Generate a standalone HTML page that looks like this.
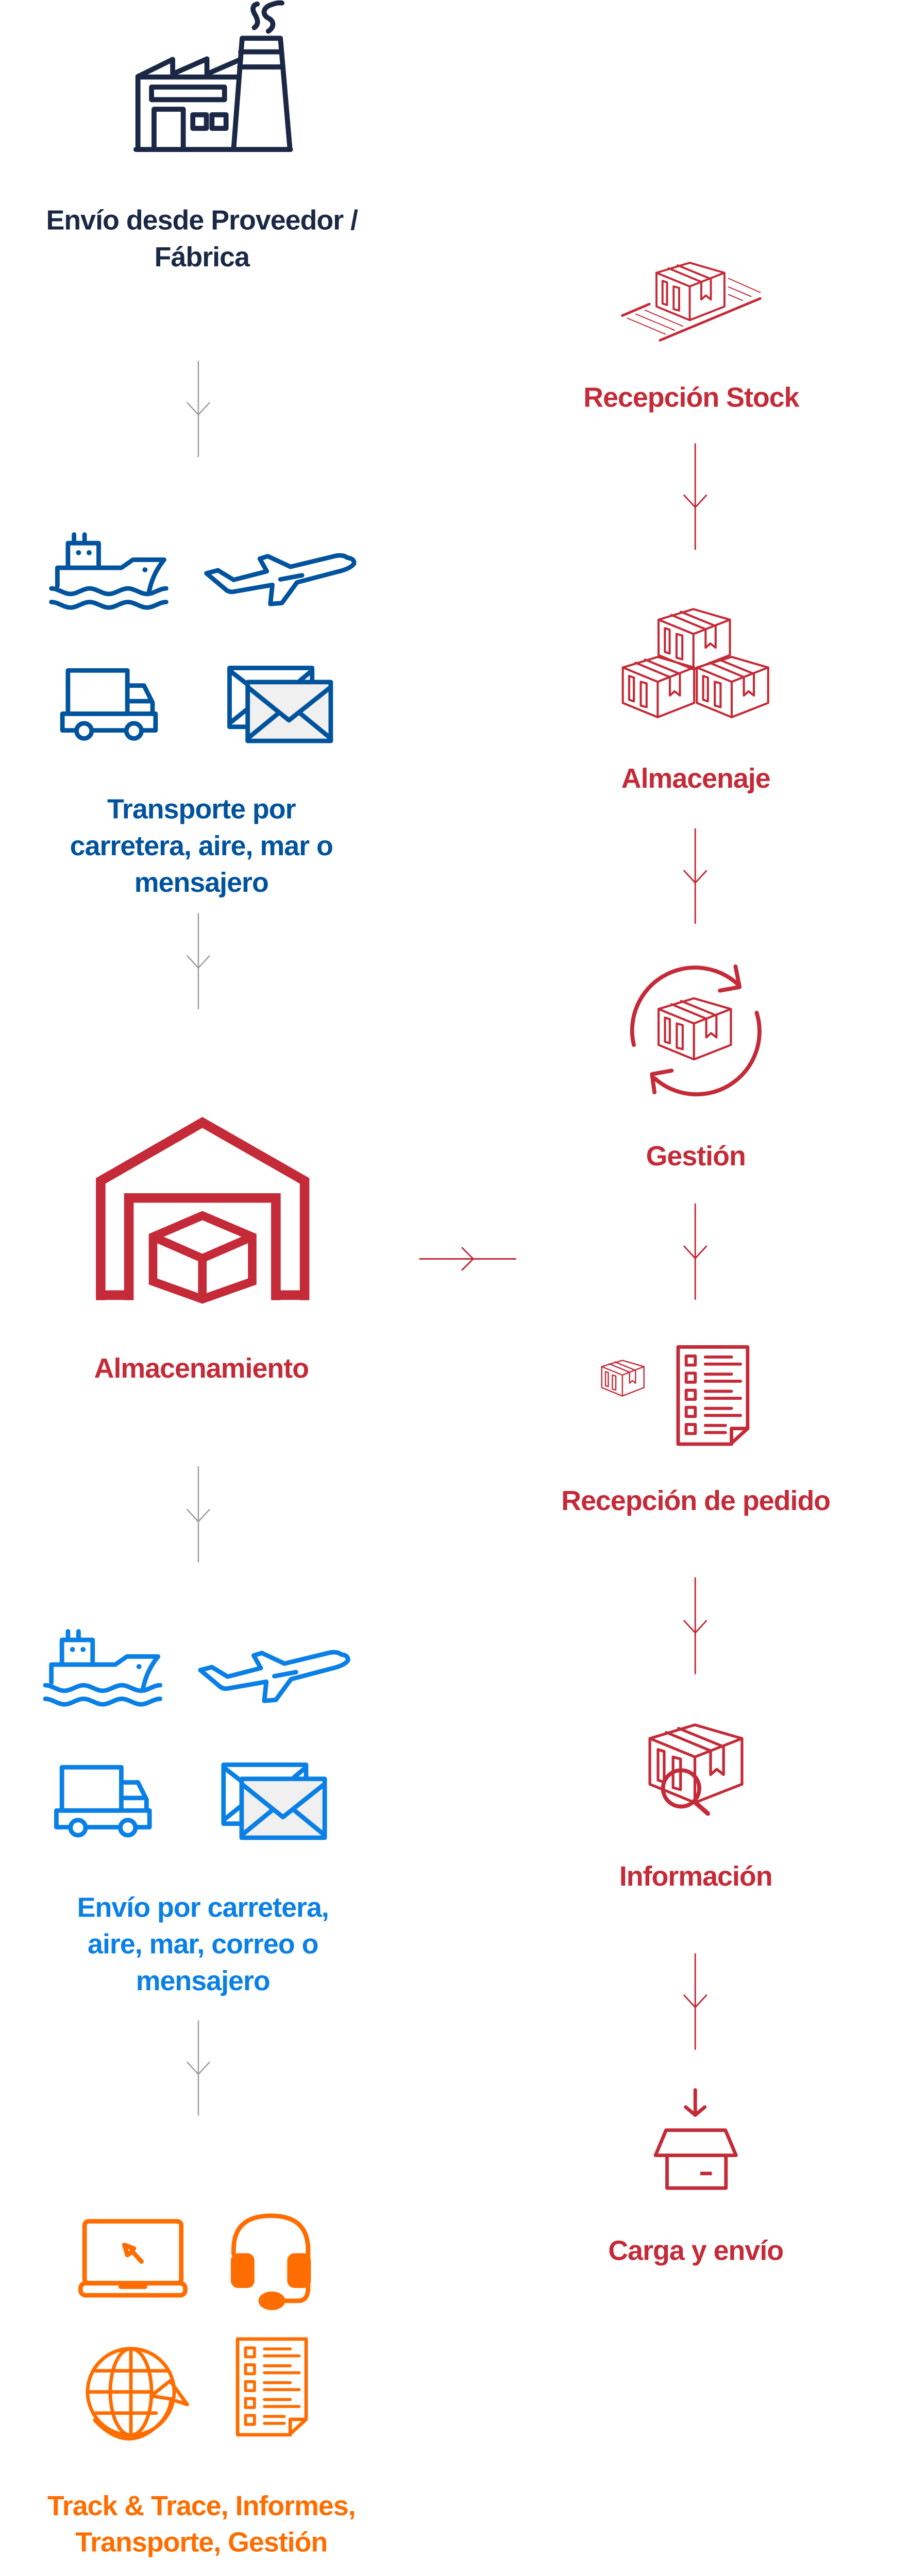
<!DOCTYPE html>
<html><head><meta charset="utf-8"><style>
html,body{margin:0;padding:0;background:#fff;overflow:hidden}
body{width:1766px;height:5122px;position:relative;overflow:hidden}
#wrap{position:absolute;left:0;top:0;width:1766px;height:5122px;transform:scale(0.977,0.977);transform-origin:0 0;overflow:hidden}
.t{position:absolute;width:800px;text-align:center;font-family:"Liberation Sans",Arial,sans-serif;font-weight:bold;font-size:55px;line-height:73px;letter-spacing:-1px;white-space:nowrap}
svg{position:absolute;left:0;top:0}
</style></head><body><div id="wrap">
<svg width="1766" height="5122" viewBox="0 0 1766 5122" fill="none" stroke-linecap="round" stroke-linejoin="round">
<defs>
<symbol id="box" viewBox="0 0 140 118" overflow="visible">
 <g fill="none" stroke="currentColor" stroke-width="4" stroke-linejoin="round">
 <path d="M2,22 L68,2 L137,22 L137,89 L68,116 L2,89 Z"/>
 <path d="M2,22 L68,49 L137,22 M68,49 L68,116"/>
 <path d="M26,13 L91,40 M44,7 L110,34"/>
 <path d="M91,40 V75 L100,67 L110,75 V34"/>
 <path d="M14,38 L23,41 L23,86 L14,83 Z M36,49 L47,52 L47,97 L36,94 Z"/>
 </g>
</symbol>
<symbol id="doc" viewBox="0 0 146 201" overflow="visible">
 <g fill="none" stroke="currentColor" stroke-width="7" stroke-linecap="round" stroke-linejoin="round">
 <path d="M4,4 H142 V166 L108,197 H4 Z"/>
 <path d="M142,166 H110 V197"/>
 <g stroke-width="6">
 <rect x="20" y="22" width="18" height="18"/><rect x="20" y="56" width="18" height="18"/><rect x="20" y="90" width="18" height="18"/><rect x="20" y="124" width="18" height="18"/><rect x="20" y="158" width="18" height="18"/>
 <path d="M58,24 H110 M58,38 H128 M58,58 H110 M58,72 H128 M58,92 H110 M58,106 H128 M58,126 H110 M58,140 H128 M58,160 H98 M58,174 H98"/>
 </g></g>
</symbol>
<symbol id="transport" viewBox="0 0 1766 5122" overflow="visible">
 <g stroke="currentColor" fill="none" stroke-width="9" stroke-linecap="round" stroke-linejoin="round">
 <path d="M114,1164 V1128 H241 L264,1112 H326 Q303,1140 296,1176"/>
 <path d="M135,1128 V1079 H196 V1128"/>
 <path d="M147,1079 V1062 M168,1079 V1062"/>
 <path d="M102,1169 c13,0 25,11 38,11 s25,-11 38,-11 s25,11 38,11 s25,-11 38,-11 s25,11 38,11 s25,-11 38,-11"/>
 <path d="M102,1196 c13,0 25,11 38,11 s25,-11 38,-11 s25,11 38,11 s25,-11 38,-11 s25,11 38,11 s25,-11 38,-11"/>
 <path d="M410,1139 L433,1133 L464,1152 L530,1135 L516,1110 L532,1105 L577,1126 L660,1106 Q680,1100 690,1108 Q705,1110 703,1120 Q696,1130 670,1136 L590,1157 L560,1198 L537,1200 L541,1162 L467,1175 Q455,1178 447,1170 Z"/>
 <path d="M557,1151 L600,1143"/>
 <rect x="135" y="1332" width="118" height="86"/>
 <path d="M253,1362 H286 L303,1396 V1418 M253,1393 H300"/>
 <rect x="124" y="1418" width="185" height="33"/>
 <circle cx="167" cy="1452" r="15" fill="#fff"/><circle cx="266" cy="1452" r="15" fill="#fff"/>
 <rect x="456" y="1327" width="164" height="117"/>
 <path d="M456,1332 L492,1360 M620,1332 L596,1352 M456,1437 L492,1408"/>
 <rect x="492" y="1355" width="165" height="117" fill="#f0f0f0"/>
 <path d="M492,1365 L574,1431 L657,1365 M492,1467 L553,1417 M657,1467 L596,1417"/>
 </g>
 <g fill="currentColor"><circle cx="156" cy="1098" r="5"/><circle cx="177" cy="1098" r="5"/><circle cx="288" cy="1132" r="5"/></g>
</symbol>
</defs>

<g stroke="#1b2845" stroke-width="10">
 <path d="M274,297 V152 L343,118 V147 L411,117 V147 L478,118"/>
 <path d="M274,153 H470"/>
 <path d="M270,297 H577"/>
 <path d="M464,297 L481,76 H557 L576,297"/>
 <path d="M478,103 H559 M476,133 H562"/>
 <rect x="301" y="173" width="145" height="25"/>
 <path d="M306,297 V217 H364 V297"/>
 <rect x="383" y="228" width="27" height="27"/><rect x="421" y="228" width="28" height="27"/>
 <path d="M505,55 C515,48 512,38 506,28 C500,18 502,10 511,8"/>
 <path d="M533,62 C545,54 545,42 533,36 C520,29 522,14 540,9 C548,6 555,5 560,6"/>
</g>

<use href="#transport" x="0" y="0" width="1766" height="5122" color="#00539c"/>
<use href="#transport" x="-12" y="2179" width="1766" height="5122" color="#0a80e6"/>

<g stroke="#9a9a9a" stroke-width="2.5">
 <path d="M394,718 V907 M372,800 L394,824 L416,800"/>
 <path d="M394,1815 V2004 M372,1899 L394,1923 L416,1899"/>
 <path d="M394,2914 V3103 M372,2999 L394,3023 L416,2999"/>
 <path d="M394,4015 V4202 M372,4097 L394,4121 L416,4097"/>
</g>
<g stroke="#c42a37" stroke-width="3">
 <path d="M1381,882 V1091 M1359,984 L1381,1008 L1403,984"/>
 <path d="M1381,1647 V1834 M1359,1730 L1381,1754 L1403,1730"/>
 <path d="M1381,2392 V2581 M1359,2476 L1381,2500 L1403,2476"/>
 <path d="M1381,3135 V3325 M1359,3220 L1381,3244 L1403,3220"/>
 <path d="M1381,3882 V4071 M1359,3964 L1381,3988 L1403,3964"/>
 <path d="M834,2501 H1024 M918,2479 L940,2501 L918,2523"/>
</g>

<g stroke="#c42a37" stroke-width="19" stroke-linecap="butt" stroke-linejoin="miter">
 <path d="M200,2583 V2346 L402,2230 L605,2346 V2583"/>
 <path d="M256,2583 V2380 H548 V2583"/>
 <path d="M195,2573 H260 M544,2573 H610"/>
 <g stroke-width="17"><path d="M304,2457 L402,2415 L501,2457 L501,2546 L402,2581 L304,2546 Z M304,2457 L402,2500 L501,2457 M402,2500 V2581"/></g>
</g>

<g color="#c42a37" stroke="#c42a37" stroke-width="4">
 <use href="#box" x="1302" y="520" width="140" height="118"/>
 <path d="M1236,627 L1290,604 M1311,676 L1510,593" stroke-width="5"/>
 <path d="M1246,632 L1322,664 M1263,624 L1340,656 M1281,616 L1356,648 M1447,553 L1510,581 M1447,570 L1492,589 M1447,585 L1475,597" stroke-width="2"/>
</g>
<g color="#c42a37">
 <use href="#box" x="1306" y="1208" width="147" height="124"/>
 <use href="#box" x="1235" y="1303" width="147" height="124"/>
 <use href="#box" x="1382" y="1303" width="147" height="124"/>
</g>
<g color="#c42a37" stroke="#c42a37" stroke-width="8">
 <use href="#box" x="1306" y="1981" width="149" height="126"/>
 <path d="M1259,2076 A125,125 0 0 1 1465,1955"/>
 <path d="M1430,1968 L1469,1961 L1461,1920"/>
 <path d="M1503,2012 A125,125 0 0 1 1300,2142"/>
 <path d="M1334,2127 L1295,2134 L1300,2170"/>
</g>
<g color="#c42a37">
 <use href="#box" x="1194" y="2701" width="87" height="74"/>
 <use href="#doc" x="1343" y="2672" width="146" height="201"/>
</g>
<g color="#c42a37" stroke="#c42a37">
 <use href="#box" x="1288" y="3424" width="190" height="160"/>
 <circle cx="1353" cy="3553" r="36" stroke-width="8" fill="none"/>
 <path d="M1380,3580 L1406,3603" stroke-width="9"/>
</g>
<g stroke="#c42a37" stroke-width="7">
 <path d="M1381,4152 V4200 M1362,4186 L1381,4202 L1400,4186"/>
 <path d="M1302,4282 L1323,4232 H1441 L1462,4282 Z"/>
 <rect x="1325" y="4282" width="117" height="65"/>
 <path d="M1391,4318 H1414" stroke-linecap="butt"/>
</g>

<g stroke="#ff6d00" stroke-width="9">
 <rect x="168" y="4413" width="192" height="123" rx="8"/>
 <rect x="160" y="4536" width="208" height="24" rx="10"/>
 <path d="M240,4538 V4543 H288 V4538"/>
 <path d="M247,4460 L266,4467 L262,4472 L281,4493 M247,4460 L253,4480 L259,4476" fill="#ff6d00"/>
 <path d="M464,4478 V4470 Q464,4402 538,4402 Q612,4402 612,4470 V4545 Q612,4571 592,4571 H561"/>
 <rect x="463" y="4481" width="38" height="60" rx="10" fill="#ff6d00"/>
 <rect x="575" y="4481" width="38" height="60" rx="10" fill="#ff6d00"/>
 <ellipse cx="540" cy="4571" rx="22" ry="14" fill="#ff6d00"/>
 <g stroke-width="7">
 <circle cx="260" cy="4752" r="86"/>
 <ellipse cx="260" cy="4752" rx="41" ry="86"/>
 <path d="M260,4666 V4838 M190,4710 H333 M174,4752 H300 M190,4794 H310"/>
 <path d="M188,4808 Q255,4880 320,4812 Q338,4790 340,4766 L300,4760 L338,4730 L372,4777 L350,4770"/>
 </g>
</g>
<g color="#ff6d00"><use href="#doc" x="468" y="4642" width="144" height="200"/></g>
</svg>

<div class="t" style="left:1px;top:401px;color:#1b2845">Envío desde Proveedor /<br>Fábrica</div>
<div class="t" style="left:0px;top:1571px;color:#00539c">Transporte por<br>carretera, aire, mar o<br>mensajero</div>
<div class="t" style="left:0px;top:2682px;color:#c42a37">Almacenamiento</div>
<div class="t" style="left:3px;top:3753px;color:#0a80e6">Envío por carretera,<br>aire, mar, correo o<br>mensajero</div>
<div class="t" style="left:0px;top:4942px;color:#ff6d00;line-height:72px">Track &amp; Trace, Informes,<br>Transporte, Gestión</div>

<div class="t" style="left:973px;top:753px;color:#c42a37">Recepción Stock</div>
<div class="t" style="left:982px;top:1510px;color:#c42a37">Almacenaje</div>
<div class="t" style="left:982px;top:2260px;color:#c42a37">Gestión</div>
<div class="t" style="left:982px;top:2945px;color:#c42a37">Recepción de pedido</div>
<div class="t" style="left:982px;top:3691px;color:#c42a37">Información</div>
<div class="t" style="left:982px;top:4435px;color:#c42a37">Carga y envío</div>
</div></body></html>
